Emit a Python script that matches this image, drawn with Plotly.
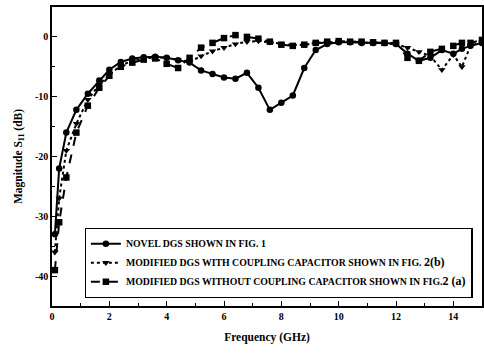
import plotly.graph_objects as go

freq = [0.1, 0.25, 0.5, 0.85, 1.25, 1.65, 2.0, 2.4, 2.8, 3.2, 3.6, 4.0, 4.4, 4.8,
        5.2, 5.6, 6.0, 6.4, 6.8, 7.2, 7.6, 8.0, 8.4, 8.8, 9.2, 9.6, 10.0, 10.4,
        10.8, 11.2, 11.6, 12.0, 12.4, 12.8, 13.2, 13.6, 14.0, 14.3, 14.6, 15.0]

novel = [-33, -22, -16, -12.2, -9.5, -7.3, -5.5, -4.2, -3.6, -3.4, -3.3, -3.5, -3.9, -4.3,
         -5.6, -6.2, -6.8, -7.0, -6.0, -8.5, -12.2, -11.0, -9.8, -5.2, -2.2, -1.2, -0.9, -0.9,
         -1.0, -1.0, -1.0, -1.2, -2.8, -4.0, -3.5, -2.2, -2.8, -2.0, -1.5, -1.0]

with_cap = [-36, -27, -19, -14.5, -10.5, -8.0, -6.3, -4.8, -4.0, -3.6, -3.4, -3.5, -3.8, -4.2,
            -3.2, -2.4, -1.8, -1.2, -0.8, -0.7, -0.9, -1.2, -1.4, -1.3, -1.0, -0.9, -0.8, -0.8,
            -0.9, -1.0, -1.0, -1.2, -1.8, -2.5, -3.2, -5.5, -3.0, -5.0, -1.5, -0.8]

without_cap = [-39, -31, -23.5, -16, -11.5, -8.5, -6.5, -5.0, -4.3, -3.8, -3.6, -4.5, -5.2, -3.5,
               -1.8, -1.0, -0.2, 0.3, 0.0, -0.3, -0.8, -1.3, -1.5, -1.3, -1.0, -0.8, -0.7, -0.8,
               -0.8, -0.9, -1.0, -1.0, -3.5, -4.0, -2.5, -2.0, -1.5, -1.0, -1.0, -0.5]

names = [
    "NOVEL DGS SHOWN IN FIG. 1",
    "MODIFIED DGS WITH COUPLING CAPACITOR SHOWN IN FIG. <span style='font-size:12px'>2(b)</span>",
    "MODIFIED DGS WITHOUT COUPLING CAPACITOR SHOWN IN FIG.<span style='font-size:12px'>2 (a)</span>",
]

x_ticks = [0, 2, 4, 6, 8, 10, 12, 14]
y_ticks = [0, -10, -20, -30, -40]

fig = go.Figure()
series = [novel, with_cap, without_cap]
symbols = ["circle", "triangle-down", "square"]
dashes = ["solid", "dot", "dash"]
for s, nm, sym, d in zip(series, names, symbols, dashes):
    fig.add_trace(go.Scatter(
        x=freq, y=s, name=nm, mode="lines+markers",
        line=dict(color="black", width=2, dash=d),
        marker=dict(symbol=sym, size=6.5, color="black"),
    ))

font_fam = "Liberation Serif, Times New Roman, serif"
fig.update_layout(
    width=484, height=353,
    margin=dict(l=52, r=0, t=7, b=47),
    paper_bgcolor="white", plot_bgcolor="white",
    font=dict(family=font_fam, color="black"),
    showlegend=True,
    legend=dict(
        x=0.076, y=0.261, xanchor="left", yanchor="top",
        bordercolor="black", borderwidth=1.2, bgcolor="white",
        font=dict(family=font_fam, size=9.8, color="black", weight="bold"),
        itemwidth=30, tracegroupgap=0,
    ),
    xaxis=dict(
        range=[0, 15], tickvals=x_ticks, ticktext=[str(v) for v in x_ticks],
        ticks="inside", ticklen=5, tickwidth=1.2, tickcolor="black",
        minor=dict(dtick=1, ticks="inside", ticklen=3, tickcolor="black"),
        showline=True, linecolor="black", linewidth=1.5, mirror=True,
        showgrid=False, zeroline=False,
        tickfont=dict(size=10, family=font_fam, weight="bold"),
        title=dict(text="<b>Frequency (GHz)</b>", font=dict(size=11.5, family=font_fam), standoff=12),
    ),
    yaxis=dict(
        range=[-45, 5], tickvals=y_ticks, ticktext=[str(v) for v in y_ticks],
        ticks="inside", ticklen=5, tickwidth=1.2, tickcolor="black",
        minor=dict(dtick=5, ticks="inside", ticklen=3, tickcolor="black"),
        showline=True, linecolor="black", linewidth=1.5, mirror=True,
        showgrid=False, zeroline=False,
        tickfont=dict(size=10, family=font_fam, weight="bold"),
        title=dict(text="<b>Magnitude S<sub>11</sub> (dB)</b>", font=dict(size=11.5, family=font_fam), standoff=10),
    ),
)

fig.write_html("out.html")
